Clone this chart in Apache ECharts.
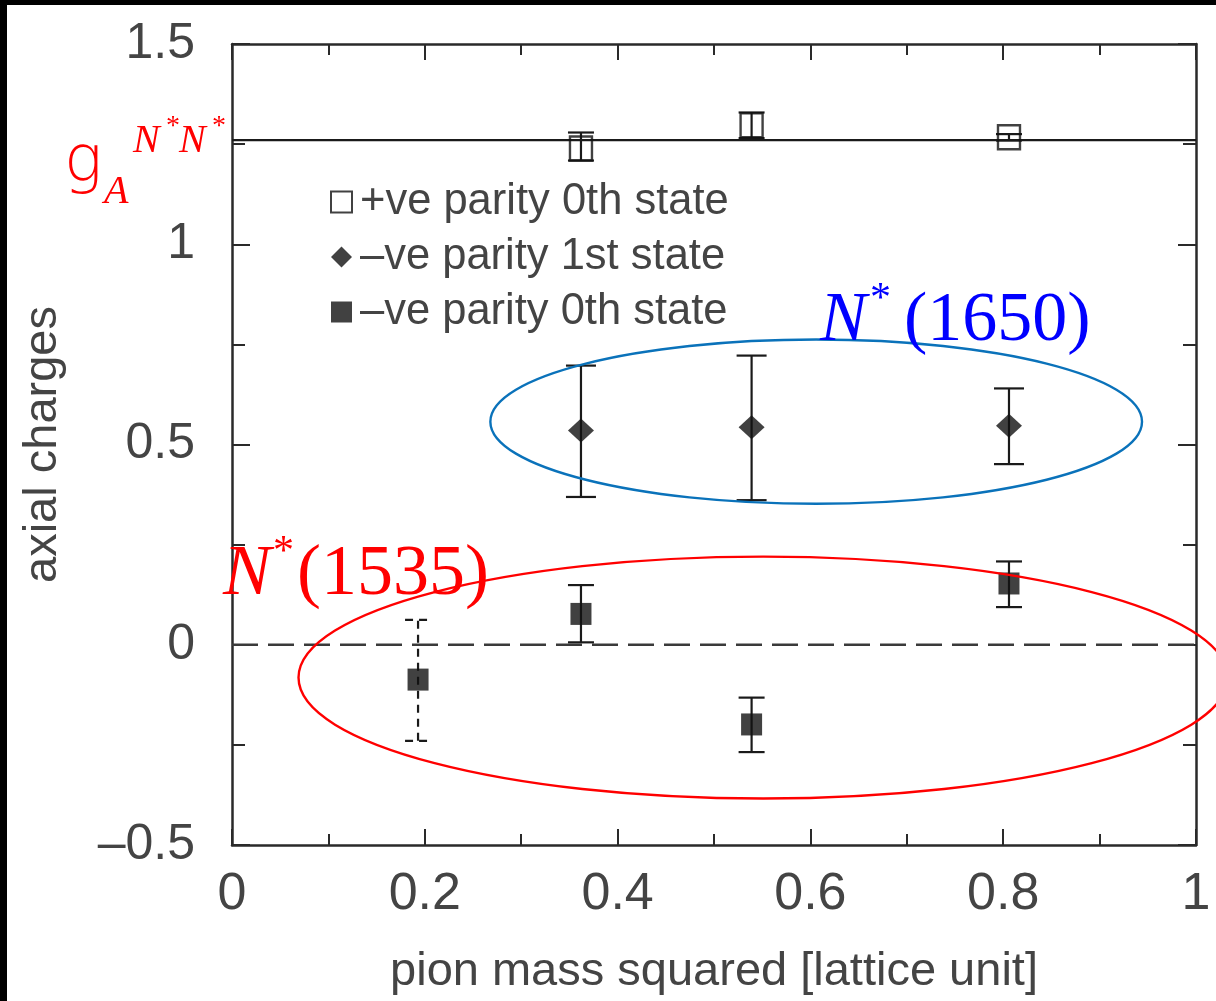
<!DOCTYPE html>
<html>
<head>
<meta charset="utf-8">
<script src="https://cdn.jsdelivr.net/npm/echarts@6/dist/echarts.min.js"></script>
<style>
  html, body { margin: 0; padding: 0; background: #fff; }
  #chart { width: 1216px; height: 1001px; }
</style>
</head>
<body>
<div id="chart"></div>
<script>
// Axial charges vs. pion mass squared (lattice units)

// +ve parity 0th state
const posX  = [0.362, 0.539, 0.806];
const posY  = [1.239, 1.297, 1.267];
const posLo = [1.209, 1.265, 1.259];
const posHi = [1.279, 1.329, 1.275];

// -ve parity 1st state
const neg1X  = [0.362, 0.539, 0.806];
const neg1Y  = [0.535, 0.543, 0.547];
const neg1Lo = [0.369, 0.361, 0.451];
const neg1Hi = [0.697, 0.722, 0.640];

// -ve parity 0th state
const neg0X  = [0.193, 0.362, 0.539, 0.806];
const neg0Y  = [-0.087, 0.077, -0.199, 0.153];
const neg0Lo = [-0.240, 0.006, -0.268, 0.094];
const neg0Hi = [0.062, 0.149, -0.132, 0.208];

// nucleon axial charge reference level
const gA = 1.26;

// axis ranges and tick labels
const xTicks = [0, 0.2, 0.4, 0.6, 0.8, 1];
const yTicks = [-0.5, 0, 0.5, 1, 1.5];

// resonance groupings (data-space ellipses)
const ellipse1650 = { cx: 0.606, cy: 0.557, rx: 0.338, ry: 0.205 };
const ellipse1535 = { cx: 0.551, cy: -0.082, rx: 0.482, ry: 0.302 };

const names = ['+ve parity 0th state', '\u2013ve parity 1st state', '\u2013ve parity 0th state'];

const SANS = '"Liberation Sans", Arial, Helvetica, sans-serif';
const SERIF = '"Liberation Serif", "Times New Roman", serif';
const INK = '#1a1a1a';

const pts = (xs, ys) => xs.map((v, i) => [v, ys[i]]);
const bars = (xs, lo, hi) => xs.map((v, i) => [v, lo[i], hi[i]]);

// vertical error bar with horizontal caps; one bar may be drawn dashed
function errorBars(capHalf, dashedIndex) {
  return function (params, api) {
    const x = api.value(0);
    const lo = api.coord([x, api.value(1)]);
    const hi = api.coord([x, api.value(2)]);
    const style = { stroke: INK, lineWidth: 2.2, fill: null };
    if (params.dataIndex === dashedIndex) style.lineDash = [8, 6];
    return {
      type: 'group',
      children: [
        { type: 'line', shape: { x1: lo[0], y1: lo[1], x2: hi[0], y2: hi[1] }, style: style },
        { type: 'line', shape: { x1: lo[0] - capHalf, y1: lo[1], x2: lo[0] + capHalf, y2: lo[1] }, style: style },
        { type: 'line', shape: { x1: hi[0] - capHalf, y1: hi[1], x2: hi[0] + capHalf, y2: hi[1] }, style: style }
      ]
    };
  };
}

const axisLine = { show: true, onZero: false, lineStyle: { color: '#2a2a2a', width: 2.5 } };
const tickStyle = { color: '#2a2a2a', width: 2 };

const chart = echarts.init(document.getElementById('chart'), null, { renderer: 'canvas' });

chart.setOption({
  animation: false,
  backgroundColor: '#fff',
  grid: { left: 232, right: 20, top: 44, bottom: 156, containLabel: false },
  legend: {
    orient: 'vertical',
    left: 325,
    top: 175,
    itemWidth: 21,
    itemHeight: 21,
    itemGap: 11,
    selectedMode: false,
    textStyle: { fontFamily: SANS, fontSize: 43.5, color: '#444', lineHeight: 44, padding: [0, 0, 0, 3] },
    data: [
      { name: names[0], icon: 'rect', itemStyle: { color: '#fff', borderColor: '#111', borderWidth: 2 } },
      { name: names[1], icon: 'diamond', itemStyle: { color: '#111', borderWidth: 0 } },
      { name: names[2], icon: 'rect', itemStyle: { color: '#111', borderWidth: 0 } }
    ]
  },
  xAxis: [
    {
      type: 'value', position: 'bottom', min: xTicks[0], max: xTicks[xTicks.length - 1], interval: 0.2,
      name: 'pion mass squared [lattice unit]', nameLocation: 'middle', nameGap: 104,
      nameTextStyle: { fontFamily: SANS, fontSize: 47, color: '#444' },
      axisLine: axisLine,
      axisTick: { show: true, inside: true, length: 16, lineStyle: tickStyle },
      minorTick: { show: true, splitNumber: 2, length: 11, lineStyle: tickStyle },
      axisLabel: { fontFamily: SANS, fontSize: 52, color: '#444', margin: 24,
        formatter: v => (xTicks.includes(+v.toFixed(1)) ? String(+v.toFixed(1)) : '') },
      splitLine: { show: false }
    },
    {
      type: 'value', position: 'top', min: xTicks[0], max: xTicks[xTicks.length - 1], interval: 0.2,
      axisLine: axisLine,
      axisTick: { show: true, inside: true, length: 16, lineStyle: tickStyle },
      minorTick: { show: true, splitNumber: 2, length: 11, lineStyle: tickStyle },
      axisLabel: { show: false },
      splitLine: { show: false }
    }
  ],
  yAxis: [
    {
      type: 'value', position: 'left', min: yTicks[0], max: yTicks[yTicks.length - 1], interval: 0.5,
      name: 'axial charges', nameLocation: 'middle', nameGap: 165, nameRotate: 90,
      nameTextStyle: { fontFamily: SANS, fontSize: 47, color: '#444' },
      axisLine: axisLine,
      axisTick: { show: true, inside: true, length: 18, lineStyle: tickStyle },
      minorTick: { show: true, splitNumber: 2, length: 13, lineStyle: tickStyle },
      axisLabel: { fontFamily: SANS, fontSize: 50, color: '#444', margin: 37,
        formatter: v => String(v).replace('-', '\u2013') },
      splitLine: { show: false }
    },
    {
      type: 'value', position: 'right', min: yTicks[0], max: yTicks[yTicks.length - 1], interval: 0.5,
      axisLine: axisLine,
      axisTick: { show: true, inside: true, length: 18, lineStyle: tickStyle },
      minorTick: { show: true, splitNumber: 2, length: 13, lineStyle: tickStyle },
      axisLabel: { show: false },
      splitLine: { show: false }
    }
  ],
  series: [
    {
      name: 'gA', type: 'line', silent: true, symbol: 'none', z: 1,
      data: [[xTicks[0], gA], [xTicks[xTicks.length - 1], gA]],
      lineStyle: { color: INK, width: 2.2 }
    },
    {
      name: 'zero', type: 'line', silent: true, symbol: 'none', z: 1,
      data: [[xTicks[0], 0], [xTicks[xTicks.length - 1], 0]],
      lineStyle: { color: '#3a3a3a', width: 2.4, type: [26, 10] }
    },
    {
      name: names[0] + ' err', type: 'custom', z: 2, silent: true,
      renderItem: errorBars(13, -1), encode: { x: 0, y: [1, 2] },
      data: bars(posX, posLo, posHi)
    },
    {
      name: names[1] + ' err', type: 'custom', z: 2, silent: true,
      renderItem: errorBars(15, -1), encode: { x: 0, y: [1, 2] },
      data: bars(neg1X, neg1Lo, neg1Hi)
    },
    {
      name: names[2] + ' err', type: 'custom', z: 2, silent: true,
      renderItem: errorBars(13, 0), encode: { x: 0, y: [1, 2] },
      data: bars(neg0X, neg0Lo, neg0Hi)
    },
    {
      name: names[0], type: 'scatter', z: 3, symbol: 'rect', symbolSize: [22, 24],
      itemStyle: { color: 'rgba(0,0,0,0)', borderColor: '#111', borderWidth: 2.5 },
      data: pts(posX, posY)
    },
    {
      name: names[1], type: 'scatter', z: 3, symbol: 'diamond', symbolSize: [26, 24],
      itemStyle: { color: '#111' },
      data: pts(neg1X, neg1Y)
    },
    {
      name: names[2], type: 'scatter', z: 3, symbol: 'rect', symbolSize: [21, 22],
      itemStyle: { color: '#111' },
      data: pts(neg0X, neg0Y)
    }
  ]
});

// text fragment placed by its left edge and vertical middle
function txt(text, left, midY, size, color, italic, family, weight) {
  return {
    type: 'text', x: left, y: midY, z: 20, silent: true,
    style: {
      text: text, fill: color,
      font: (italic ? 'italic ' : '') + (weight ? weight + ' ' : '') + size + 'px ' + (family || SERIF),
      align: 'left', verticalAlign: 'middle',
      textAlign: 'left', textVerticalAlign: 'middle'
    }
  };
}

function ellipseShape(e) {
  const c = chart.convertToPixel({ xAxisIndex: 0, yAxisIndex: 0 }, [e.cx, e.cy]);
  const r = chart.convertToPixel({ xAxisIndex: 0, yAxisIndex: 0 }, [e.cx + e.rx, e.cy + e.ry]);
  return { cx: c[0], cy: c[1], rx: Math.abs(r[0] - c[0]), ry: Math.abs(c[1] - r[1]) };
}

const RED = '#ff0000';
const BLUE = '#0000ff';

chart.setOption({
  graphic: [
    // frame strips
    { type: 'rect', shape: { x: 0, y: 0, width: 1216, height: 5 }, style: { fill: '#000' }, z: 30, silent: true },
    { type: 'rect', shape: { x: 0, y: 0, width: 7, height: 1001 }, style: { fill: '#000' }, z: 30, silent: true },

    // resonance ellipses
    { type: 'ellipse', shape: ellipseShape(ellipse1650), style: { fill: null, stroke: '#0a72ba', lineWidth: 2.4 }, z: 15, silent: true },
    { type: 'ellipse', shape: ellipseShape(ellipse1535), style: { fill: null, stroke: RED, lineWidth: 2.4 }, z: 15, silent: true },

    // g_A^{N*N*}
    txt('g', 64, 164, 64, RED, false, '"DejaVu Sans", sans-serif', 200),
    txt('A', 104, 192, 40, RED, true),
    txt('N', 133, 141, 40, RED, true),
    txt('*', 166, 127, 28, RED, false),
    txt('N', 179, 141, 40, RED, true),
    txt('*', 212, 127, 28, RED, false),

    // N*(1650)
    txt('N', 820, 322, 70, BLUE, true),
    txt('*', 870, 300, 42, BLUE, false),
    txt('(1650)', 904, 322, 70, BLUE, false),

    // N*(1535)
    txt('N', 223, 575, 72, RED, true),
    txt('*', 273, 553, 42, RED, false),
    txt('(1535)', 297, 575, 72, RED, false)
  ]
});
</script>
</body>
</html>
